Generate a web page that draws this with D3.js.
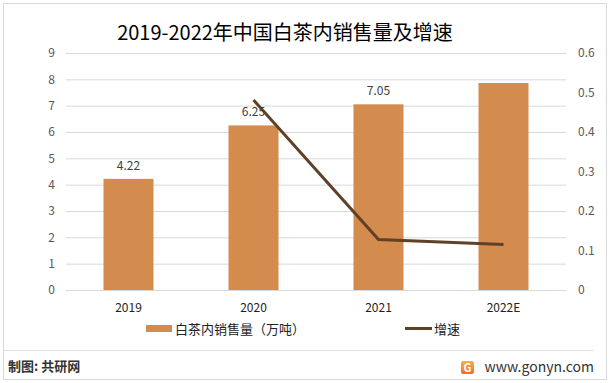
<!DOCTYPE html>
<html><head><meta charset="utf-8">
<script src="https://cdn.jsdelivr.net/npm/d3@7/dist/d3.min.js"></script>
<style>body{margin:0;background:#fff}svg{display:block}</style>
</head><body>
<svg id="c" width="611" height="383"></svg>
<script>
const categories = ["2019","2020","2021","2022E"];
const sales = [4.22, 6.25, 7.05, 7.86];
const salesLabels = ["4.22","6.25","7.05",null];
const growth = [null, 0.481, 0.128, 0.115];
const leftTicks = [0,1,2,3,4,5,6,7,8,9];
const rightTicks = [0,0.1,0.2,0.3,0.4,0.5,0.6];
const title = "2019-2022年中国白茶内销售量及增速";
const legendBar = "白茶内销售量（万吨）";
const legendLine = "增速";

const svg = d3.select("#c");
const font = "'Microsoft YaHei','Noto Sans CJK SC','Noto Sans',sans-serif";
svg.append("rect").attr("x",3.5).attr("y",3.5).attr("width",603).attr("height",376)
  .attr("fill","#fff").attr("stroke","#d9d9d9");

const x = d3.scaleBand().domain(categories).range([66,566]).paddingInner(0.6).paddingOuter(0.3);
const yL = d3.scaleLinear().domain([0,9]).range([290,53]);
const yR = d3.scaleLinear().domain([0,0.6]).range([290,53]);

svg.append("text").attr("x",285).attr("y",40).attr("text-anchor","middle")
  .attr("font-family",font).attr("font-size",20).attr("fill","#000").text(title);

// gridlines
const gl = svg.append("g").attr("transform","translate(0,0)")
  .call(d3.axisLeft(yL).tickValues(leftTicks).tickSize(-500).tickFormat(""));
gl.attr("transform","translate(66,0)");
gl.select(".domain").remove();
gl.selectAll("line").attr("stroke","#d9d9d9");

// left axis labels
const la = svg.append("g").attr("transform","translate(66,0)")
  .call(d3.axisLeft(yL).tickValues(leftTicks).tickSize(0).tickPadding(11));
la.select(".domain").remove();
la.selectAll("text").attr("font-family",font).attr("font-size",12).attr("fill","#595959");

const ra = svg.append("g").attr("transform","translate(566,0)")
  .call(d3.axisRight(yR).tickValues(rightTicks).tickSize(0).tickPadding(12).tickFormat(d3.format("")));
ra.select(".domain").remove();
ra.selectAll("text").attr("font-family",font).attr("font-size",12).attr("fill","#595959");

// bars
svg.append("g").selectAll("rect").data(categories).join("rect")
  .attr("x",d=>x(d)).attr("width",x.bandwidth())
  .attr("y",(d,i)=>yL(sales[i])).attr("height",(d,i)=>yL(0)-yL(sales[i]))
  .attr("fill","#d38b4e");

// bar labels
svg.append("g").selectAll("text").data(categories.filter((d,i)=>salesLabels[i])).join("text")
  .attr("x",d=>x(d)+x.bandwidth()/2)
  .attr("y",d=>yL(sales[categories.indexOf(d)])-9)
  .attr("text-anchor","middle").attr("font-family",font).attr("font-size",12).attr("fill","#404040")
  .text(d=>salesLabels[categories.indexOf(d)]);

// x axis
const xa = svg.append("g").attr("transform","translate(0,290)")
  .call(d3.axisBottom(x).tickSize(0).tickPadding(13));
xa.select(".domain").attr("stroke","#d9d9d9");
xa.selectAll("text").attr("font-family",font).attr("font-size",12).attr("fill","#222");

// line
const pts = categories.map((c,i)=>({c,v:growth[i]})).filter(d=>d.v!=null);
svg.append("path").datum(pts)
  .attr("d",d3.line().x(d=>x(d.c)+x.bandwidth()/2).y(d=>yR(d.v)))
  .attr("fill","none").attr("stroke","#5e4127").attr("stroke-width",3);

// legend
svg.append("rect").attr("x",146).attr("y",325).attr("width",26).attr("height",7).attr("fill","#d38b4e");
svg.append("text").attr("x",175).attr("y",334).attr("font-family",font).attr("font-size",13).attr("fill","#222").text(legendBar);
svg.append("line").attr("x1",405).attr("x2",432).attr("y1",328.5).attr("y2",328.5).attr("stroke","#5e4127").attr("stroke-width",3);
svg.append("text").attr("x",434).attr("y",334).attr("font-family",font).attr("font-size",13).attr("fill","#222").text(legendLine);

// footer
svg.append("line").attr("x1",4).attr("x2",594).attr("y1",350.5).attr("y2",350.5).attr("stroke","#e0e0e0");
svg.append("text").attr("x",8).attr("y",371).attr("font-family",font).attr("font-size",13).attr("font-weight","bold").attr("fill","#333").text("制图: 共研网");
const grad = svg.append("defs").append("linearGradient").attr("id","lg").attr("x1",0).attr("y1",0).attr("x2",0).attr("y2",1);
grad.append("stop").attr("offset","0").attr("stop-color","#f6b24a");
grad.append("stop").attr("offset","1").attr("stop-color","#ee6b2d");
svg.append("rect").attr("x",461).attr("y",361).attr("width",13).attr("height",13).attr("rx",2).attr("fill","url(#lg)");
svg.append("text").attr("x",467.5).attr("y",372).attr("text-anchor","middle").attr("font-family",font).attr("font-size",11).attr("font-weight","bold").attr("fill","#fff").text("G");
svg.append("text").attr("x",594).attr("y",372).attr("text-anchor","end").attr("font-family",font).attr("font-size",14).attr("fill","#333").text("www.gonyn.com");
</script>
</body></html>
